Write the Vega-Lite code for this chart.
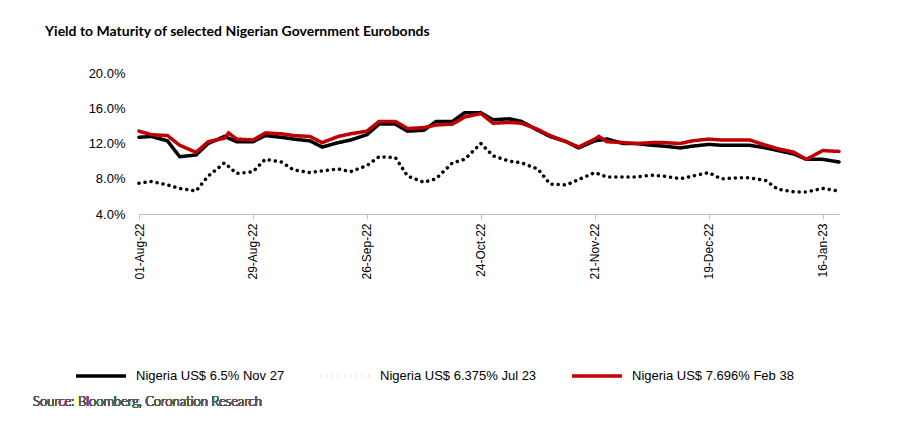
{
  "$schema": "https://vega.github.io/schema/vega-lite/v6.json",
  "width": 700,
  "height": 141,
  "autosize": {"type": "none"},
  "padding": {"left": 139, "top": 73, "right": 61, "bottom": 212},
  "background": "white",
  "title": {
    "text": "Yield to Maturity of selected Nigerian Government Eurobonds",
    "font": "Lato", "fontSize": 14, "fontWeight": "bold", "color": "black",
    "anchor": "start", "frame": "group", "dx": -94, "offset": 28
  },
  "config": {"view": {"stroke": null}, "font": "Liberation Sans"},
  "data": {"values": [
    {"d":"2022-08-01","s":"Nigeria US$ 6.5% Nov 27","y":12.7},{"d":"2022-08-04","s":"Nigeria US$ 6.5% Nov 27","y":12.8},{"d":"2022-08-08","s":"Nigeria US$ 6.5% Nov 27","y":12.3},{"d":"2022-08-11","s":"Nigeria US$ 6.5% Nov 27","y":10.5},{"d":"2022-08-15","s":"Nigeria US$ 6.5% Nov 27","y":10.7},{"d":"2022-08-18","s":"Nigeria US$ 6.5% Nov 27","y":12.0},{"d":"2022-08-22","s":"Nigeria US$ 6.5% Nov 27","y":12.8},{"d":"2022-08-25","s":"Nigeria US$ 6.5% Nov 27","y":12.2},{"d":"2022-08-29","s":"Nigeria US$ 6.5% Nov 27","y":12.2},{"d":"2022-09-01","s":"Nigeria US$ 6.5% Nov 27","y":12.9},{"d":"2022-09-05","s":"Nigeria US$ 6.5% Nov 27","y":12.7},{"d":"2022-09-08","s":"Nigeria US$ 6.5% Nov 27","y":12.5},{"d":"2022-09-12","s":"Nigeria US$ 6.5% Nov 27","y":12.3},{"d":"2022-09-15","s":"Nigeria US$ 6.5% Nov 27","y":11.6},{"d":"2022-09-19","s":"Nigeria US$ 6.5% Nov 27","y":12.1},{"d":"2022-09-22","s":"Nigeria US$ 6.5% Nov 27","y":12.4},{"d":"2022-09-26","s":"Nigeria US$ 6.5% Nov 27","y":13.0},{"d":"2022-09-29","s":"Nigeria US$ 6.5% Nov 27","y":14.2},{"d":"2022-10-03","s":"Nigeria US$ 6.5% Nov 27","y":14.2},{"d":"2022-10-06","s":"Nigeria US$ 6.5% Nov 27","y":13.4},{"d":"2022-10-10","s":"Nigeria US$ 6.5% Nov 27","y":13.5},{"d":"2022-10-13","s":"Nigeria US$ 6.5% Nov 27","y":14.5},{"d":"2022-10-17","s":"Nigeria US$ 6.5% Nov 27","y":14.5},{"d":"2022-10-20","s":"Nigeria US$ 6.5% Nov 27","y":15.5},{"d":"2022-10-24","s":"Nigeria US$ 6.5% Nov 27","y":15.5},{"d":"2022-10-27","s":"Nigeria US$ 6.5% Nov 27","y":14.7},{"d":"2022-10-31","s":"Nigeria US$ 6.5% Nov 27","y":14.8},{"d":"2022-11-03","s":"Nigeria US$ 6.5% Nov 27","y":14.5},{"d":"2022-11-07","s":"Nigeria US$ 6.5% Nov 27","y":13.5},{"d":"2022-11-10","s":"Nigeria US$ 6.5% Nov 27","y":12.8},{"d":"2022-11-14","s":"Nigeria US$ 6.5% Nov 27","y":12.2},{"d":"2022-11-17","s":"Nigeria US$ 6.5% Nov 27","y":11.5},{"d":"2022-11-21","s":"Nigeria US$ 6.5% Nov 27","y":12.3},{"d":"2022-11-24","s":"Nigeria US$ 6.5% Nov 27","y":12.5},{"d":"2022-11-28","s":"Nigeria US$ 6.5% Nov 27","y":12.0},{"d":"2022-12-01","s":"Nigeria US$ 6.5% Nov 27","y":12.0},{"d":"2022-12-05","s":"Nigeria US$ 6.5% Nov 27","y":11.8},{"d":"2022-12-08","s":"Nigeria US$ 6.5% Nov 27","y":11.7},{"d":"2022-12-12","s":"Nigeria US$ 6.5% Nov 27","y":11.5},{"d":"2022-12-15","s":"Nigeria US$ 6.5% Nov 27","y":11.7},{"d":"2022-12-19","s":"Nigeria US$ 6.5% Nov 27","y":11.9},{"d":"2022-12-22","s":"Nigeria US$ 6.5% Nov 27","y":11.8},{"d":"2022-12-26","s":"Nigeria US$ 6.5% Nov 27","y":11.8},{"d":"2022-12-29","s":"Nigeria US$ 6.5% Nov 27","y":11.8},{"d":"2023-01-02","s":"Nigeria US$ 6.5% Nov 27","y":11.5},{"d":"2023-01-05","s":"Nigeria US$ 6.5% Nov 27","y":11.2},{"d":"2023-01-09","s":"Nigeria US$ 6.5% Nov 27","y":10.8},{"d":"2023-01-12","s":"Nigeria US$ 6.5% Nov 27","y":10.2},{"d":"2023-01-16","s":"Nigeria US$ 6.5% Nov 27","y":10.2},{"d":"2023-01-20","s":"Nigeria US$ 6.5% Nov 27","y":9.9},
    {"d":"2022-08-01","s":"Nigeria US$ 7.696% Feb 38","y":13.4},{"d":"2022-08-04","s":"Nigeria US$ 7.696% Feb 38","y":13.0},{"d":"2022-08-08","s":"Nigeria US$ 7.696% Feb 38","y":12.9},{"d":"2022-08-11","s":"Nigeria US$ 7.696% Feb 38","y":11.8},{"d":"2022-08-15","s":"Nigeria US$ 7.696% Feb 38","y":11.0},{"d":"2022-08-18","s":"Nigeria US$ 7.696% Feb 38","y":12.2},{"d":"2022-08-22","s":"Nigeria US$ 7.696% Feb 38","y":12.6},{"d":"2022-08-23","s":"Nigeria US$ 7.696% Feb 38","y":13.2},{"d":"2022-08-25","s":"Nigeria US$ 7.696% Feb 38","y":12.5},{"d":"2022-08-29","s":"Nigeria US$ 7.696% Feb 38","y":12.4},{"d":"2022-09-01","s":"Nigeria US$ 7.696% Feb 38","y":13.2},{"d":"2022-09-05","s":"Nigeria US$ 7.696% Feb 38","y":13.1},{"d":"2022-09-08","s":"Nigeria US$ 7.696% Feb 38","y":12.9},{"d":"2022-09-12","s":"Nigeria US$ 7.696% Feb 38","y":12.8},{"d":"2022-09-15","s":"Nigeria US$ 7.696% Feb 38","y":12.1},{"d":"2022-09-19","s":"Nigeria US$ 7.696% Feb 38","y":12.8},{"d":"2022-09-22","s":"Nigeria US$ 7.696% Feb 38","y":13.1},{"d":"2022-09-26","s":"Nigeria US$ 7.696% Feb 38","y":13.4},{"d":"2022-09-29","s":"Nigeria US$ 7.696% Feb 38","y":14.5},{"d":"2022-10-03","s":"Nigeria US$ 7.696% Feb 38","y":14.5},{"d":"2022-10-06","s":"Nigeria US$ 7.696% Feb 38","y":13.7},{"d":"2022-10-10","s":"Nigeria US$ 7.696% Feb 38","y":13.8},{"d":"2022-10-13","s":"Nigeria US$ 7.696% Feb 38","y":14.1},{"d":"2022-10-17","s":"Nigeria US$ 7.696% Feb 38","y":14.2},{"d":"2022-10-20","s":"Nigeria US$ 7.696% Feb 38","y":15.0},{"d":"2022-10-24","s":"Nigeria US$ 7.696% Feb 38","y":15.4},{"d":"2022-10-27","s":"Nigeria US$ 7.696% Feb 38","y":14.3},{"d":"2022-10-31","s":"Nigeria US$ 7.696% Feb 38","y":14.4},{"d":"2022-11-03","s":"Nigeria US$ 7.696% Feb 38","y":14.3},{"d":"2022-11-07","s":"Nigeria US$ 7.696% Feb 38","y":13.6},{"d":"2022-11-10","s":"Nigeria US$ 7.696% Feb 38","y":12.9},{"d":"2022-11-14","s":"Nigeria US$ 7.696% Feb 38","y":12.2},{"d":"2022-11-17","s":"Nigeria US$ 7.696% Feb 38","y":11.6},{"d":"2022-11-21","s":"Nigeria US$ 7.696% Feb 38","y":12.5},{"d":"2022-11-22","s":"Nigeria US$ 7.696% Feb 38","y":12.8},{"d":"2022-11-24","s":"Nigeria US$ 7.696% Feb 38","y":12.2},{"d":"2022-11-28","s":"Nigeria US$ 7.696% Feb 38","y":12.1},{"d":"2022-12-01","s":"Nigeria US$ 7.696% Feb 38","y":12.0},{"d":"2022-12-05","s":"Nigeria US$ 7.696% Feb 38","y":12.1},{"d":"2022-12-08","s":"Nigeria US$ 7.696% Feb 38","y":12.1},{"d":"2022-12-12","s":"Nigeria US$ 7.696% Feb 38","y":12.0},{"d":"2022-12-15","s":"Nigeria US$ 7.696% Feb 38","y":12.3},{"d":"2022-12-19","s":"Nigeria US$ 7.696% Feb 38","y":12.5},{"d":"2022-12-22","s":"Nigeria US$ 7.696% Feb 38","y":12.4},{"d":"2022-12-26","s":"Nigeria US$ 7.696% Feb 38","y":12.4},{"d":"2022-12-29","s":"Nigeria US$ 7.696% Feb 38","y":12.4},{"d":"2023-01-02","s":"Nigeria US$ 7.696% Feb 38","y":11.8},{"d":"2023-01-05","s":"Nigeria US$ 7.696% Feb 38","y":11.4},{"d":"2023-01-09","s":"Nigeria US$ 7.696% Feb 38","y":11.0},{"d":"2023-01-12","s":"Nigeria US$ 7.696% Feb 38","y":10.2},{"d":"2023-01-16","s":"Nigeria US$ 7.696% Feb 38","y":11.2},{"d":"2023-01-20","s":"Nigeria US$ 7.696% Feb 38","y":11.1},
    {"d":"2022-08-01","s":"Nigeria US$ 6.375% Jul 23","y":7.5},{"d":"2022-08-04","s":"Nigeria US$ 6.375% Jul 23","y":7.7},{"d":"2022-08-08","s":"Nigeria US$ 6.375% Jul 23","y":7.3},{"d":"2022-08-11","s":"Nigeria US$ 6.375% Jul 23","y":6.9},{"d":"2022-08-15","s":"Nigeria US$ 6.375% Jul 23","y":6.6},{"d":"2022-08-18","s":"Nigeria US$ 6.375% Jul 23","y":8.3},{"d":"2022-08-22","s":"Nigeria US$ 6.375% Jul 23","y":9.8},{"d":"2022-08-25","s":"Nigeria US$ 6.375% Jul 23","y":8.6},{"d":"2022-08-29","s":"Nigeria US$ 6.375% Jul 23","y":8.8},{"d":"2022-09-01","s":"Nigeria US$ 6.375% Jul 23","y":10.2},{"d":"2022-09-05","s":"Nigeria US$ 6.375% Jul 23","y":9.9},{"d":"2022-09-08","s":"Nigeria US$ 6.375% Jul 23","y":9.0},{"d":"2022-09-12","s":"Nigeria US$ 6.375% Jul 23","y":8.7},{"d":"2022-09-15","s":"Nigeria US$ 6.375% Jul 23","y":8.9},{"d":"2022-09-19","s":"Nigeria US$ 6.375% Jul 23","y":9.1},{"d":"2022-09-22","s":"Nigeria US$ 6.375% Jul 23","y":8.8},{"d":"2022-09-26","s":"Nigeria US$ 6.375% Jul 23","y":9.5},{"d":"2022-09-29","s":"Nigeria US$ 6.375% Jul 23","y":10.5},{"d":"2022-10-03","s":"Nigeria US$ 6.375% Jul 23","y":10.4},{"d":"2022-10-06","s":"Nigeria US$ 6.375% Jul 23","y":8.3},{"d":"2022-10-10","s":"Nigeria US$ 6.375% Jul 23","y":7.6},{"d":"2022-10-13","s":"Nigeria US$ 6.375% Jul 23","y":8.0},{"d":"2022-10-17","s":"Nigeria US$ 6.375% Jul 23","y":9.8},{"d":"2022-10-20","s":"Nigeria US$ 6.375% Jul 23","y":10.2},{"d":"2022-10-24","s":"Nigeria US$ 6.375% Jul 23","y":12.0},{"d":"2022-10-27","s":"Nigeria US$ 6.375% Jul 23","y":10.6},{"d":"2022-10-31","s":"Nigeria US$ 6.375% Jul 23","y":10.0},{"d":"2022-11-03","s":"Nigeria US$ 6.375% Jul 23","y":9.8},{"d":"2022-11-07","s":"Nigeria US$ 6.375% Jul 23","y":9.1},{"d":"2022-11-10","s":"Nigeria US$ 6.375% Jul 23","y":7.4},{"d":"2022-11-14","s":"Nigeria US$ 6.375% Jul 23","y":7.3},{"d":"2022-11-17","s":"Nigeria US$ 6.375% Jul 23","y":7.9},{"d":"2022-11-21","s":"Nigeria US$ 6.375% Jul 23","y":8.7},{"d":"2022-11-24","s":"Nigeria US$ 6.375% Jul 23","y":8.2},{"d":"2022-11-28","s":"Nigeria US$ 6.375% Jul 23","y":8.2},{"d":"2022-12-01","s":"Nigeria US$ 6.375% Jul 23","y":8.2},{"d":"2022-12-05","s":"Nigeria US$ 6.375% Jul 23","y":8.4},{"d":"2022-12-08","s":"Nigeria US$ 6.375% Jul 23","y":8.3},{"d":"2022-12-12","s":"Nigeria US$ 6.375% Jul 23","y":8.0},{"d":"2022-12-15","s":"Nigeria US$ 6.375% Jul 23","y":8.3},{"d":"2022-12-19","s":"Nigeria US$ 6.375% Jul 23","y":8.7},{"d":"2022-12-22","s":"Nigeria US$ 6.375% Jul 23","y":8.0},{"d":"2022-12-26","s":"Nigeria US$ 6.375% Jul 23","y":8.1},{"d":"2022-12-29","s":"Nigeria US$ 6.375% Jul 23","y":8.1},{"d":"2023-01-02","s":"Nigeria US$ 6.375% Jul 23","y":7.8},{"d":"2023-01-05","s":"Nigeria US$ 6.375% Jul 23","y":6.8},{"d":"2023-01-09","s":"Nigeria US$ 6.375% Jul 23","y":6.5},{"d":"2023-01-12","s":"Nigeria US$ 6.375% Jul 23","y":6.5},{"d":"2023-01-16","s":"Nigeria US$ 6.375% Jul 23","y":6.9},{"d":"2023-01-20","s":"Nigeria US$ 6.375% Jul 23","y":6.6}
  ]},
  "layer": [
    {
      "mark": {"type": "line", "strokeWidth": 3.5, "strokeCap": "round"},
      "encoding": {
        "x": {
          "field": "d", "type": "temporal",
          "scale": {"domain": ["2022-08-01", "2023-01-20"]},
          "axis": {
            "title": null, "grid": false, "labelAngle": -90, "labelAlign": "right", "labelBaseline": "middle",
            "format": "%d-%b-%y", "labelFont": "Liberation Sans", "labelFontSize": 12, "labelColor": "black",
            "domainColor": "#bfbfbf", "tickColor": "#bfbfbf", "labelPadding": 4,
            "values": ["2022-08-01", "2022-08-29", "2022-09-26", "2022-10-24", "2022-11-21", "2022-12-19", "2023-01-16"]
          }
        },
        "y": {
          "field": "y", "type": "quantitative",
          "scale": {"domain": [4, 20]},
          "axis": {
            "title": null, "grid": false, "domain": false, "ticks": false,
            "values": [4, 8, 12, 16, 20], "labelExpr": "format(datum.value, '.1f') + '%'",
            "labelFont": "Liberation Sans", "labelFontSize": 13, "labelColor": "black", "labelPadding": 14
          }
        },
        "color": {
          "field": "s", "type": "nominal",
          "scale": {
            "domain": ["Nigeria US$ 6.5% Nov 27", "Nigeria US$ 6.375% Jul 23", "Nigeria US$ 7.696% Feb 38"],
            "range": ["black", "black", "#c00000"]
          },
          "legend": {
            "title": null, "orient": "none", "direction": "horizontal", "legendX": -65, "legendY": 276,
            "symbolType": "stroke", "symbolSize": 2500, "symbolStrokeWidth": 3.5,
            "labelFont": "Liberation Sans", "labelFontSize": 13, "labelColor": "black",
            "columnPadding": 28, "labelOffset": 8, "labelLimit": 300
          }
        },
        "strokeDash": {
          "field": "s", "type": "nominal",
          "scale": {
            "domain": ["Nigeria US$ 6.5% Nov 27", "Nigeria US$ 6.375% Jul 23", "Nigeria US$ 7.696% Feb 38"],
            "range": [[1, 0], [0.1, 6], [1, 0]]
          },
          "legend": null
        }
      }
    },
    {
      "mark": {"type": "text", "text": "Source: Bloomberg, Coronation Research", "font": "Lato", "fontSize": 13, "fontWeight": 300, "color": "#595959", "align": "left", "baseline": "middle"},
      "encoding": {"x": {"value": -106}, "y": {"value": 329}}
    }
  ]
}
